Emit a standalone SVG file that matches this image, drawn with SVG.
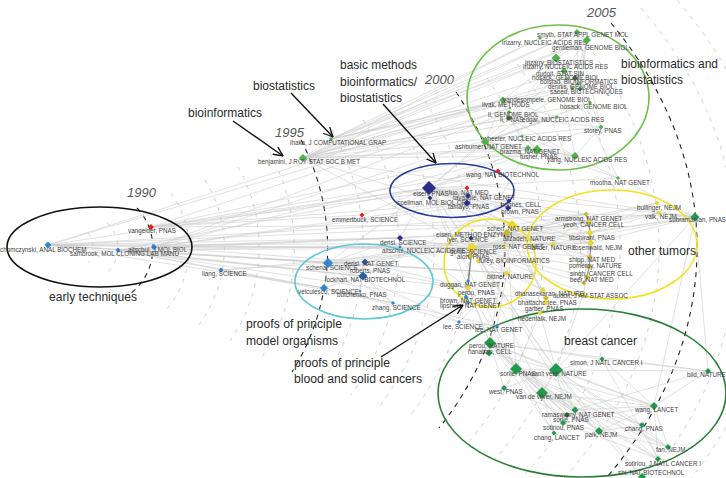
<svg xmlns="http://www.w3.org/2000/svg" width="726" height="478" viewBox="0 0 726 478">
<style>
text{font-family:"Liberation Sans",Arial,Helvetica,sans-serif}
.l{font-size:6.3px;fill:#444}
.c{font-size:12.5px;fill:#2a2a2a}
.y{font-size:13px;font-style:italic;fill:#555}
.ad{fill:none;stroke:#bdbdbd;stroke-width:.75;stroke-dasharray:4 6}
.ay{fill:none;stroke:#222;stroke-width:1.1;stroke-dasharray:5 5}
#edges path{fill:none;stroke:#cdcdcd;stroke-width:.6}
#edges path.e2{stroke:#8c8c8c;stroke-width:1.1}
.el{fill:none;stroke-width:1.6}
.arr{fill:none;stroke:#111;stroke-width:1.4;marker-end:url(#ah)}
.cb{fill:#2f86d6}.cr{fill:#e3211c}.cn{fill:#2b2d8c}.cg{fill:#4cb146}.cgd{fill:#3f6f3f}
.cy{fill:#e8d92b}.cyd{fill:#c9b631}.cbr{fill:#1f9a4b}.cbd{fill:#2b5e35}.cbm{fill:#2a5fa8}
</style>
<defs>
<marker id="ah" viewBox="0 0 10 10" refX="9.5" refY="5" markerWidth="10" markerHeight="10" markerUnits="userSpaceOnUse" orient="auto"><path d="M0,0.5L9.5,5L0,9.5" fill="none" stroke="#111" stroke-width="1.3"/></marker>
<path id="d15" d="M0,-1.5L1.5,0L0,1.5L-1.5,0Z"/>
<path id="d18" d="M0,-1.8L1.8,0L0,1.8L-1.8,0Z"/>
<path id="d20" d="M0,-2L2,0L0,2L-2,0Z"/>
<path id="d25" d="M0,-2.5L2.5,0L0,2.5L-2.5,0Z"/>
<path id="d30" d="M0,-3L3,0L0,3L-3,0Z"/>
<path id="d35" d="M0,-3.5L3.5,0L0,3.5L-3.5,0Z"/>
<path id="d40" d="M0,-4L4,0L0,4L-4,0Z"/>
<path id="d45" d="M0,-4.5L4.5,0L0,4.5L-4.5,0Z"/>
<path id="d50" d="M0,-5L5,0L0,5L-5,0Z"/>
<path id="d55" d="M0,-5.5L5.5,0L0,5.5L-5.5,0Z"/>
<path id="d60" d="M0,-6L6,0L0,6L-6,0Z"/>
<path id="d70" d="M0,-7L7,0L0,7L-7,0Z"/>
</defs>
<rect width="726" height="478" fill="#fff"/>
<g id="timeline">
<path class="ad" d="M88,233A25,25 0 0 1 88,263"/>
<path class="ad" d="M107,223A34,34 0 0 1 107,273"/>
<path class="ay" d="M137,208A58,58 0 0 1 130,294"/>
<path class="ad" d="M171,193A94,94 0 0 1 165,311"/>
<path class="ad" d="M205,180A129,129 0 0 1 198,326"/>
<path class="ad" d="M238,167A164,164 0 0 1 230,341"/>
<path class="ad" d="M270,153A199,199 0 0 1 262,357"/>
<path class="ay" d="M301,140A233,233 0 0 1 292,372"/>
<path class="ad" d="M332,130A268,252 0 0 1 321,384"/>
<path class="ad" d="M363,120A304,272 0 0 1 351,395"/>
<path class="ad" d="M394,111A339,291 0 0 1 380,406"/>
<path class="ad" d="M425,101A374,311 0 0 1 409,417"/>
<path class="ay" d="M456,92A410,330 0 0 1 439,428"/>
<path class="ad" d="M487,78A448,351 0 0 1 468,443"/>
<path class="ad" d="M517,64A486,372 0 0 1 494,460"/>
<path class="ad" d="M550,51A525,394 0 0 1 524,475"/>
<path class="ad" d="M581,37A564,415 0 0 1 552,491"/>
<path class="ay" d="M611,23A602,436 0 0 1 579,507"/>
<path class="ad" d="M641,8A641,458 0 0 1 607,524"/>
<path class="ad" d="M671,-7A680,479 0 0 1 633,541"/>
<text class="y" x="127" y="197">1990</text>
<text class="y" x="275" y="137">1995</text>
<text class="y" x="425" y="84">2000</text>
<text class="y" x="587" y="17">2005</text>
</g>
<g id="edges">
<path d="M48 245L118 250M48 245L154 247M48 245L328 263M48 245L324 288M48 245L429 188M48 245L472 248M48 245L512 225M48 245L507 273M48 245L586 214M48 245L591 243M48 245L510 108M48 245L503 100M48 245L400 238M48 245L363 276"/>
<path d="M118 250L154 247M118 250L328 263M118 250L363 276M118 250L324 288M118 250L472 248M118 250L400 238M118 250L429 188M118 250L507 273M118 250L468 288M118 250L540 313M118 250L553 244M118 250L221 270"/>
<path d="M151 227L362 215M151 227L429 188M151 227L467 188M151 227L498 171M151 227L512 225M151 227L467 203M151 227L510 108M151 227L528 148"/>
<path d="M154 247L400 247M154 247L400 238M154 247L365 262M154 247L472 248M154 247L467 203M154 247L557 117M154 247L509 112M154 247L537 150M154 247L507 233M154 247L509 201"/>
<path d="M221 270L328 263M221 270L472 248M221 270L324 288M221 270L393 303"/>
<path d="M303 158L577 32M303 158L587 40M303 158L556 58M303 158L564 71M303 158L575 78M303 158L503 100M303 158L590 103M303 158L601 127M303 158L528 148M303 158L537 150M303 158L575 156M303 158L557 117M303 158L509 118M303 158L540 38M303 158L578 84M303 158L695 217M303 158L472 248M303 158L512 225M303 158L331 139"/>
<path d="M331 139L587 40M331 139L556 58M331 139L577 32M331 139L578 84M331 139L540 38M331 139L580 89M331 139L503 100"/>
<path d="M429 188L430 198M429 188L467 188M429 188L468 196M429 188L467 203M429 188L498 171M429 188L509 201M429 188L508 208M429 188L512 225M429 188L507 233M429 188L472 248M429 188L507 273M429 188L485 142M429 188L537 150M429 188L528 148M429 188L564 71M429 188L586 214M429 188L591 243M429 188L590 257M429 188L490 343M429 188L516 369M429 188L556 370M429 188L695 217M429 188L618 178M429 188L400 238M429 188L328 263M429 188L362 215M429 188L589 222M429 188L590 233"/>
<path d="M400 238L472 248M400 238L507 233M400 238L468 288M400 238L328 263"/>
<path d="M328 263L365 262M328 263L363 276M328 263L324 288M328 263L472 248M328 263L468 288M328 263L507 233M328 263L459 322M328 263L507 273M328 263L393 303M328 263L360 291"/>
<path d="M324 288L393 303M324 288L363 276M324 288L459 322M324 288L497 326M365 262L363 276M365 262L472 248M365 262L507 233M365 262L468 288M363 276L360 291M363 276L393 303M363 276L509 201"/>
<path d="M472 248L470 256M472 248L478 261M472 248L512 225M472 248L507 233M472 248L505 246M472 248L528 148M472 248L586 214M472 248L589 222M472 248L590 233M472 248L591 243M472 248L590 257M472 248L589 267M472 248L587 277M472 248L584 283M472 248L584 293M472 248L553 244M472 248L657 203M472 248L659 213M472 248L695 217M472 248L575 410M472 248L556 370M472 248L543 290M472 248L540 313M472 248L507 273M472 248L466 297M472 248L542 393"/>
<path d="M507 233L591 243M507 233L590 257M507 233L590 233M507 233L657 203M507 233L659 213M507 233L553 244M507 233L490 343M507 233L516 369M507 233L505 246M507 233L586 214M507 233L589 222M507 233L543 290M507 233L546 298"/>
<path d="M512 225L505 246M512 225L586 214M512 225L591 243M512 225L546 303M590 233L589 222M590 233L586 214M590 233L590 257M590 233L584 283M590 233L584 293M590 233L695 217M590 233L657 203M590 233L659 213"/>
<path d="M584 293L556 370M553 244L695 217M553 244L589 267M553 244L586 214M468 288L466 297M468 288L468 303M468 288L507 273M468 288L490 343M468 288L516 369M468 288L546 303M507 273L478 261M507 273L543 290M507 273L459 322M507 273L497 326M497 326L459 322M497 326L490 343M540 313L516 369M540 313L556 370M540 313L546 298M540 313L490 343"/>
<path d="M695 217L618 178M695 217L657 203M695 217L659 213M695 217L591 243M695 217L586 214M695 217L654 406M695 217L708 371M695 217L556 370M618 178L528 148M618 178L575 156M618 178L564 71"/>
<path d="M577 32L587 40M577 32L556 58M577 32L540 38M577 32L578 84M587 40L556 58M587 40L564 71M587 40L578 84M587 40L572 88M587 40L580 89M556 58L564 71M556 58L575 78M556 58L578 84M556 58L503 100M556 58L509 118M556 58L575 156"/>
<path d="M503 100L510 108M503 100L509 112M503 100L509 118M503 100L557 117M503 100L485 142M509 118L528 148M509 118L537 150M509 118L601 127M509 118L557 117M509 118L575 156M528 148L601 127M528 148L537 150M528 148L575 156M528 148L485 142M537 150L485 142M537 150L575 156M537 150L522 136M601 127L590 103M601 127L575 156M601 127L577 32M566 79L572 88M566 79L590 103M485 142L557 117M485 142L572 88M485 142L590 103M522 136L575 156"/>
<path d="M490 343L489 353M490 343L516 369M490 343L556 370M490 343L542 393M490 343L504 388M490 343L575 410M490 343L563 423M490 343L554 433M490 343L599 431M490 343L654 406M490 343L708 371M490 343L602 359M490 343L567 415"/>
<path d="M516 369L556 370M516 369L542 393M516 369L504 388M516 369L563 423M516 369L575 410M516 369L554 433M516 369L599 431M516 369L654 406M516 369L668 447M516 369L567 415M516 369L642 425M516 369L658 459"/>
<path d="M556 370L542 393M556 370L602 359M556 370L654 406M556 370L599 431M556 370L708 371M556 370L642 425M556 370L668 447M556 370L658 459M556 370L575 410M556 370L567 415M556 370L642 477"/>
<path d="M542 393L654 406M542 393L554 433M542 393L599 431M542 393L668 447M542 393L563 423M542 393L642 425M542 393L575 410M542 393L658 459M542 393L567 415"/>
<path d="M654 406L642 425M654 406L668 447M654 406L658 459M654 406L708 371M654 406L602 359M654 406L599 431M654 406L575 410M654 406L563 423M575 410L708 371M575 410L599 431M599 431L668 447M599 431L642 477M599 431L642 425M642 477L668 447M642 477L658 459M563 423L658 459M563 423L599 431M504 388L556 370M504 388L567 415M602 359L708 371M602 359L658 459M642 425L668 447M642 425L658 459M489 353L556 370"/>
<path class="e2" d="M472 248L468 281M472 248L468 288"/>
<path class="e2" d="M586 214L589 222L590 233L591 243L590 257L589 267L587 277L584 283"/>
</g>
<g id="clusters">
<ellipse id="c-early" class="el" cx="99.5" cy="247" rx="92.5" ry="40" stroke="#111"/>
<ellipse id="c-basic" class="el" cx="452" cy="190.5" rx="62" ry="27" stroke="#2b3d9b"/>
<ellipse id="c-bio" class="el" cx="558" cy="97.5" rx="91" ry="72.5" stroke="#6cbf4a"/>
<ellipse id="c-model" class="el" cx="364" cy="281.5" rx="69" ry="37.5" stroke="#5ec8da"/>
<ellipse id="c-blood" class="el" cx="490" cy="263" rx="46" ry="44" stroke="#f2e21e"/>
<ellipse id="c-other" class="el" cx="612" cy="244.5" rx="85" ry="54.5" stroke="#f2e21e"/>
<ellipse id="c-breast" class="el" cx="582" cy="393" rx="144" ry="84" stroke="#2a7f36"/>
</g>
<g id="nodes">
<g id="n-chomczynski"><use href="#d35" x="48" y="245" class="cb"/><text class="l" x="0" y="252">chomczynski, ANAL BIOCHEM</text></g>
<g id="n-sambrook"><use href="#d25" x="118" y="250" class="cb"/><text class="l" x="70" y="256">sambrook, MOL CLONING LAB MANU</text></g>
<g id="n-vangelder"><use href="#d30" x="151" y="227" class="cr"/><text class="l" x="128" y="233">vangelder, PNAS</text></g>
<g id="n-altschul90"><use href="#d30" x="154" y="247" class="cb"/><text class="l" x="128" y="252">altschul, J MOL BIOL</text></g>
<g id="n-liang"><use href="#d25" x="221" y="270" class="cb"/><text class="l" x="202" y="276">liang, SCIENCE</text></g>
<g id="n-ihaka"><use href="#d20" x="331" y="139" class="cg"/><text class="l" x="290" y="145">ihaka, J COMPUTATIONAL GRAP</text></g>
<g id="n-benjamini"><use href="#d40" x="303" y="158" class="cg"/><text class="l" x="258" y="164">benjamini, J ROY STAT SOC B MET</text></g>
<g id="n-eisen"><use href="#d70" x="429" y="188" class="cn"/><text class="l" x="413" y="196">eisen, PNAS</text></g>
<g id="n-spellman"><use href="#d25" x="430" y="198" class="cn"/><text class="l" x="397" y="205">spellman, MOL BIOL CELL</text></g>
<g id="n-luo"><use href="#d25" x="467" y="188" class="cr"/><text class="l" x="449" y="195">luo, NAT MED</text></g>
<g id="n-tavazoie"><use href="#d30" x="468" y="196" class="cn"/><text class="l" x="453" y="200">tavazoie, NAT GENET</text></g>
<g id="n-tamayo"><use href="#d35" x="467" y="203" class="cn"/><text class="l" x="448" y="209">tamayo, PNAS</text></g>
<g id="n-wang-nb"><use href="#d25" x="498" y="171" class="cr"/><text class="l" x="466" y="177">wang, NAT BIOTECHNOL</text></g>
<g id="n-hughes"><use href="#d25" x="509" y="201" class="cn"/><text class="l" x="501" y="207">hughes, CELL</text></g>
<g id="n-brown-pnas"><use href="#d30" x="508" y="208" class="cn"/><text class="l" x="501" y="214">brown, PNAS</text></g>
<g id="n-emmertbuck"><use href="#d25" x="362" y="215" class="cr"/><text class="l" x="332" y="222">emmertbuck, SCIENCE</text></g>
<g id="n-derisi-s"><use href="#d30" x="400" y="238" class="cn"/><text class="l" x="380" y="245">derisi, SCIENCE</text></g>
<g id="n-altschul-nar"><use href="#d18" x="400" y="247" class="cb"/><text class="l" x="382" y="253">altschul, NUCLEIC ACIDS RES</text></g>
<g id="n-schena"><use href="#d50" x="328" y="263" class="cb"/><text class="l" x="306" y="270">schena, SCIENCE</text></g>
<g id="n-derisi-ng"><use href="#d35" x="365" y="262" class="cbm"/><text class="l" x="344" y="266">derisi, NAT GENET</text></g>
<g id="n-roberts"><use href="#d45" x="363" y="276" class="cbm"/><text class="l" x="350" y="273">roberts, PNAS</text></g>
<g id="n-lockhart"><text class="l" x="325" y="282">lockhart, NAT BIOTECHNOL</text></g>
<g id="n-velculescu"><use href="#d40" x="324" y="288" class="cb"/><text class="l" x="298" y="294">velculescu, SCIENCE</text></g>
<g id="n-butchenko"><use href="#d15" x="360" y="291" class="cb"/><text class="l" x="337" y="297">butchenko, PNAS</text></g>
<g id="n-zhang"><use href="#d20" x="393" y="303" class="cb"/><text class="l" x="372" y="310">zhang, SCIENCE</text></g>
<g id="n-eisen-me"><use href="#d18" x="472" y="230" class="cy"/><text class="l" x="436" y="237">eisen, METHOD ENZYMOL</text></g>
<g id="n-scherf"><use href="#d50" x="512" y="225" class="cy"/><text class="l" x="487" y="231">scherf, NAT GENET</text></g>
<g id="n-alizadeh"><use href="#d40" x="507" y="233" class="cyd"/><text class="l" x="503" y="241">alizadeh, NATURE</text></g>
<g id="n-iyer"><use href="#d25" x="471" y="238" class="cn"/><text class="l" x="447" y="242">iyer, SCIENCE</text></g>
<g id="n-ross"><use href="#d20" x="505" y="246" class="cy"/><text class="l" x="493" y="249">ross, NAT GENET</text></g>
<g id="n-golub"><use href="#d55" x="472" y="248" class="cy"/><text class="l" x="450" y="254">golub, SCIENCE</text></g>
<g id="n-alon"><use href="#d35" x="470" y="256" class="cyd"/><text class="l" x="457" y="259">alon, PNAS</text></g>
<g id="n-furey"><use href="#d25" x="478" y="261" class="cy"/><text class="l" x="479" y="263">furey, BIOINFORMATICS</text></g>
<g id="n-bittner"><use href="#d30" x="507" y="273" class="cy"/><text class="l" x="487" y="279">bittner, NATURE</text></g>
<g id="n-duggan"><use href="#d20" x="468" y="281" class="cb"/><text class="l" x="440" y="287">duggan, NAT GENET</text></g>
<g id="n-perou-pnas"><use href="#d30" x="468" y="288" class="cy"/><text class="l" x="458" y="295">perou, PNAS</text></g>
<g id="n-brown-ng"><use href="#d25" x="466" y="297" class="cb"/><text class="l" x="440" y="303">brown, NAT GENET</text></g>
<g id="n-lipshutz"><use href="#d20" x="468" y="303" class="cb"/><text class="l" x="440" y="308">lipshutz, NAT GENET</text></g>
<g id="n-lee-s"><use href="#d20" x="459" y="322" class="cb"/><text class="l" x="443" y="329">lee, SCIENCE</text></g>
<g id="n-lee-ng"><use href="#d20" x="497" y="326" class="cb"/><text class="l" x="475" y="332">lee, NAT GENET</text></g>
<g id="n-lander"><use href="#d25" x="553" y="244" class="cy"/><text class="l" x="530" y="250">lander, NATURE</text></g>
<g id="n-armstrong"><use href="#d25" x="586" y="214" class="cyd"/><text class="l" x="555" y="221">armstrong, NAT GENET</text></g>
<g id="n-yeoh"><use href="#d30" x="589" y="222" class="cy"/><text class="l" x="563" y="227">yeoh, CANCER CELL</text></g>
<g id="n-tibshirani"><use href="#d35" x="590" y="233" class="cy"/><text class="l" x="569" y="240">tibshirani, PNAS</text></g>
<g id="n-rosenwald"><use href="#d35" x="591" y="243" class="cy"/><text class="l" x="573" y="250">rosenwald, NEJM</text></g>
<g id="n-shipp"><use href="#d30" x="590" y="257" class="cyd"/><text class="l" x="569" y="262">shipp, NAT MED</text></g>
<g id="n-pomeroy"><use href="#d30" x="589" y="267" class="cyd"/><text class="l" x="569" y="268">pomeroy, NATURE</text></g>
<g id="n-singh"><use href="#d30" x="587" y="277" class="cyd"/><text class="l" x="570" y="276">singh, CANCER CELL</text></g>
<g id="n-beer"><use href="#d25" x="584" y="283" class="cyd"/><text class="l" x="570" y="282">beer, NAT MED</text></g>
<g id="n-dudoit-jasa"><use href="#d20" x="584" y="293" class="cy"/><text class="l" x="553" y="298">dudoit, J AM STAT ASSOC</text></g>
<g id="n-dhanasekaran"><use href="#d30" x="543" y="290" class="cy"/><text class="l" x="515" y="296">dhanasekaran, NATURE</text></g>
<g id="n-bhattacharjee"><use href="#d30" x="546" y="298" class="cyd"/><text class="l" x="518" y="305">bhattacharjee, PNAS</text></g>
<g id="n-garber"><use href="#d25" x="546" y="303" class="cy"/><text class="l" x="525" y="311">garber, PNAS</text></g>
<g id="n-hedenfalk"><use href="#d25" x="540" y="313" class="cy"/><text class="l" x="518" y="321">hedenfalk, NEJM</text></g>
<g id="n-bullinger"><use href="#d25" x="657" y="203" class="cy"/><text class="l" x="637" y="210">bullinger, NEJM</text></g>
<g id="n-valk"><use href="#d25" x="659" y="213" class="cy"/><text class="l" x="645" y="219">valk, NEJM</text></g>
<g id="n-subramanian"><use href="#d45" x="695" y="217" class="cbr"/><text class="l" x="669" y="222">subramanian, PNAS</text></g>
<g id="n-mootha"><use href="#d20" x="618" y="178" class="cg"/><text class="l" x="590" y="185">mootha, NAT GENET</text></g>
<g id="n-smyth"><use href="#d30" x="577" y="32" class="cg"/><text class="l" x="537" y="37">smyth, STAT APPL GENET MOL</text></g>
<g id="n-irizarry-nar1"><use href="#d20" x="540" y="38" class="cg"/><text class="l" x="502" y="45">irizarry, NUCLEIC ACIDS RES</text></g>
<g id="n-gentleman"><use href="#d40" x="587" y="40" class="cg"/><text class="l" x="552" y="50">gentleman, GENOME BIOL</text></g>
<g id="n-irizarry-bs"><use href="#d45" x="556" y="58" class="cg"/><text class="l" x="525" y="65">irizarry, BIOSTATISTICS</text></g>
<g id="n-irizarry-nar2"><use href="#d35" x="564" y="71" class="cg"/><text class="l" x="523" y="69">irizarry, NUCLEIC ACIDS RES</text></g>
<g id="n-dudoit-ss"><use href="#d30" x="575" y="78" class="cgd"/><text class="l" x="536" y="76">dudoit, STAT SIN</text></g>
<g id="n-hosack1"><use href="#d15" x="566" y="79" class="cg"/><text class="l" x="532" y="80">hosack, GENOME BIOL</text></g>
<g id="n-bolstad"><use href="#d20" x="578" y="84" class="cg"/><text class="l" x="540" y="84">bolstad, BIOINFORMATICS</text></g>
<g id="n-dennis"><use href="#d20" x="572" y="88" class="cg"/><text class="l" x="548" y="89">dennis, GENOME BIOL</text></g>
<g id="n-saeed"><use href="#d25" x="580" y="89" class="cgd"/><text class="l" x="550" y="94">saeed, BIOTECHNIQUES</text></g>
<g id="n-vandesompele"><use href="#d35" x="503" y="100" class="cg"/><text class="l" x="503" y="102">vandesompele, GENOME BIOL</text></g>
<g id="n-livak"><use href="#d15" x="510" y="108" class="cg"/><text class="l" x="482" y="107">livak, METHODS</text></g>
<g id="n-li-gb"><use href="#d20" x="509" y="112" class="cg"/><text class="l" x="488" y="117">li, GENOME BIOL</text></g>
<g id="n-li-pnas"><use href="#d30" x="509" y="118" class="cgd"/><text class="l" x="500" y="122">li, PNAS</text></g>
<g id="n-edgar"><use href="#d20" x="557" y="117" class="cg"/><text class="l" x="522" y="122">edgar, NUCLEIC ACIDS RES</text></g>
<g id="n-hosack2"><use href="#d20" x="590" y="103" class="cg"/><text class="l" x="560" y="109">hosack, GENOME BIOL</text></g>
<g id="n-storey"><use href="#d25" x="601" y="127" class="cg"/><text class="l" x="584" y="133">storey, PNAS</text></g>
<g id="n-wheeler"><use href="#d15" x="522" y="136" class="cg"/><text class="l" x="483" y="141">wheeler, NUCLEIC ACIDS RES</text></g>
<g id="n-ashburner"><use href="#d40" x="485" y="142" class="cg"/><text class="l" x="455" y="149">ashburner, NAT GENET</text></g>
<g id="n-tusher"><use href="#d30" x="528" y="148" class="cg"/><text class="l" x="520" y="159">tusher, PNAS</text></g>
<g id="n-brazma"><use href="#d50" x="537" y="150" class="cg"/><text class="l" x="500" y="154">brazma, NAT GENET</text></g>
<g id="n-yang"><use href="#d40" x="575" y="156" class="cg"/><text class="l" x="547" y="162">yang, NUCLEIC ACIDS RES</text></g>
<g id="n-perou-nature"><use href="#d60" x="490" y="343" class="cbr"/><text class="l" x="469" y="348">perou, NATURE</text></g>
<g id="n-hanahan"><use href="#d35" x="489" y="353" class="cbr"/><text class="l" x="468" y="354">hanahan, CELL</text></g>
<g id="n-simon"><use href="#d25" x="602" y="359" class="cbr"/><text class="l" x="570" y="365">simon, J NATL CANCER I</text></g>
<g id="n-sorlie"><use href="#d60" x="516" y="369" class="cbr"/><text class="l" x="500" y="376">sorlie, PNAS</text></g>
<g id="n-vantveer"><use href="#d70" x="556" y="370" class="cbr"/><text class="l" x="531" y="376">van't veer, NATURE</text></g>
<g id="n-bild"><use href="#d30" x="708" y="371" class="cbr"/><text class="l" x="687" y="377">bild, NATURE</text></g>
<g id="n-west"><use href="#d30" x="504" y="388" class="cbr"/><text class="l" x="489" y="394">west, PNAS</text></g>
<g id="n-vandevijver"><use href="#d60" x="542" y="393" class="cbr"/><text class="l" x="516" y="399">van de vijver, NEJM</text></g>
<g id="n-wang-lancet"><use href="#d40" x="654" y="406" class="cbr"/><text class="l" x="635" y="412">wang, LANCET</text></g>
<g id="n-ramaswamy"><use href="#d35" x="575" y="410" class="cbr"/><text class="l" x="542" y="417">ramaswamy, NAT GENET</text></g>
<g id="n-sorlie2"><use href="#d30" x="567" y="415" class="cbd"/><text class="l" x="553" y="422">sorlie, PNAS</text></g>
<g id="n-sotiriou-pnas"><use href="#d30" x="563" y="423" class="cbr"/><text class="l" x="543" y="430">sotiriou, PNAS</text></g>
<g id="n-chang-pnas"><use href="#d30" x="642" y="425" class="cbr"/><text class="l" x="625" y="431">chang, PNAS</text></g>
<g id="n-chang-lancet"><use href="#d25" x="554" y="433" class="cbr"/><text class="l" x="534" y="440">chang, LANCET</text></g>
<g id="n-paik"><use href="#d40" x="599" y="431" class="cbr"/><text class="l" x="585" y="437">paik, NEJM</text></g>
<g id="n-fan"><use href="#d30" x="668" y="447" class="cbr"/><text class="l" x="656" y="452">fan, NEJM</text></g>
<g id="n-sotiriou-jnci"><use href="#d30" x="658" y="459" class="cbr"/><text class="l" x="625" y="466">sotiriou, J NATL CANCER I</text></g>
<g id="n-shi"><use href="#d40" x="642" y="477" class="cbr"/><text class="l" x="618" y="475">shi, NAT BIOTECHNOL</text></g>
</g>
<g id="annotations">
<text class="c" x="49" y="301" textLength="88" lengthAdjust="spacingAndGlyphs">early techniques</text>
<text class="c" x="188" y="117" textLength="74" lengthAdjust="spacingAndGlyphs">bioinformatics</text>
<text class="c" x="253" y="89.5" textLength="62" lengthAdjust="spacingAndGlyphs">biostatistics</text>
<text class="c" x="340" y="69" textLength="77" lengthAdjust="spacingAndGlyphs">basic methods</text>
<text class="c" x="340" y="85.5" textLength="77" lengthAdjust="spacingAndGlyphs">bioinformatics/</text>
<text class="c" x="340" y="101.5" textLength="62" lengthAdjust="spacingAndGlyphs">biostatistics</text>
<text class="c" x="621" y="68" textLength="97" lengthAdjust="spacingAndGlyphs">bioinformatics and</text>
<text class="c" x="621" y="83.5" textLength="62" lengthAdjust="spacingAndGlyphs">biostatistics</text>
<text class="c" x="628" y="255" textLength="68" lengthAdjust="spacingAndGlyphs">other tumors</text>
<text class="c" x="564" y="345" textLength="73" lengthAdjust="spacingAndGlyphs">breast cancer</text>
<text class="c" x="246" y="328" textLength="96" lengthAdjust="spacingAndGlyphs">proofs of principle</text>
<text class="c" x="246" y="344.5" textLength="92" lengthAdjust="spacingAndGlyphs">model organisms</text>
<text class="c" x="294" y="366.5" textLength="96" lengthAdjust="spacingAndGlyphs">proofs of principle</text>
<text class="c" x="294" y="382.5" textLength="128" lengthAdjust="spacingAndGlyphs">blood and solid cancers</text>
<path class="arr" d="M233,121L283,156"/>
<path class="arr" d="M291,93L333,137"/>
<path class="arr" d="M383,104L436,163"/>
<path class="arr" d="M381,357L463,305"/>
</g>
</svg>
